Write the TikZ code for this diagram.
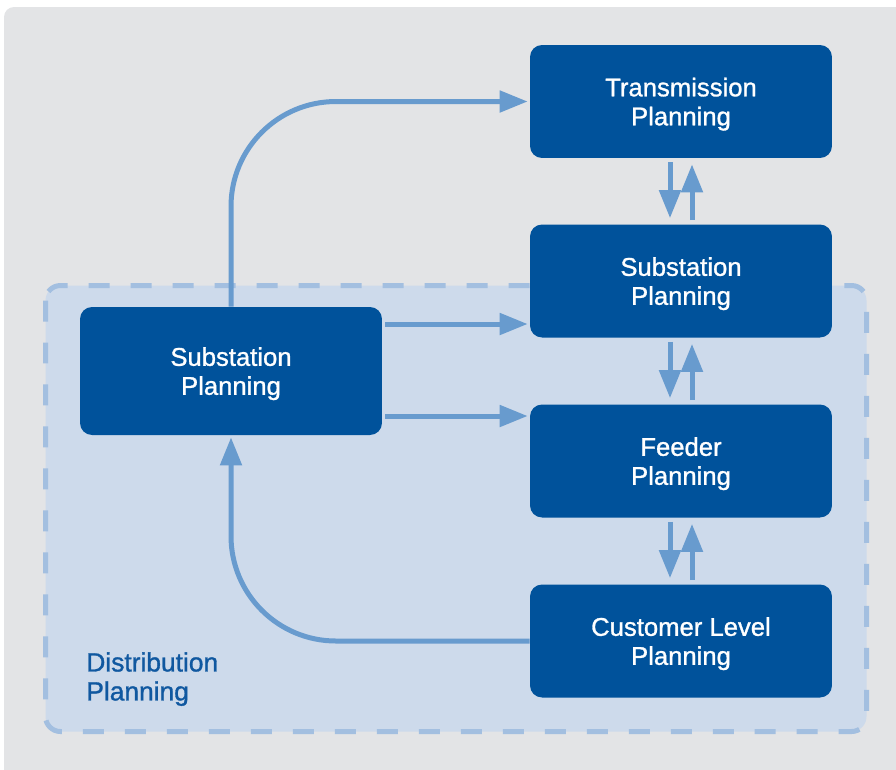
\documentclass[tikz,border=0pt]{standalone}
\usepackage{fontspec}
\setmainfont{Liberation Sans}
\newfontfamily\planfont{Liberation Sans}[FakeBold=1.1]
\usetikzlibrary{arrows.meta}
\definecolor{bggray}{RGB}{227,228,230}
\definecolor{zonefill}{RGB}{205,218,235}
\definecolor{zoneline}{RGB}{163,191,224}
\definecolor{boxblue}{RGB}{0,82,155}
\definecolor{flowblue}{RGB}{104,155,206}
\definecolor{zonetext}{RGB}{16,88,160}
\tikzset{
  plan/.style={fill=boxblue, rounded corners=0.24cm, text=white, align=center,
    minimum width=6.04cm, minimum height=2.26cm, inner sep=0pt,
    font=\planfont\fontsize{14.6}{16.5}\selectfont, text depth=-0.6pt},
  flow/.style={draw=flowblue, line width=0.1cm,
    -{Triangle[length=0.56cm,width=0.42cm]}, shorten >=0.04cm}
}
\begin{document}
\begin{tikzpicture}[x=0.02cm, y=-0.02cm]
            \useasboundingbox (0,0) rectangle (896,769);
            \begin{scope}
              \clip (0,0) rectangle (896,769);
              \fill[bggray, rounded corners=0.2cm] (4,7) rectangle (930,800);
            \end{scope}
            \draw[fill=zonefill, draw=zoneline, line width=0.1cm, dash pattern=on 0.42cm off 0.42cm, rounded corners=0.3cm] (45.5,285.5) rectangle (866.5,731.5);
            \node[text=zonetext, align=left, anchor=north west, inner sep=0pt, font=\planfont\fontsize{15}{16.5}\selectfont] (dist) at (86,652) {Distribution\\Planning};
            \node[plan] (tp) at (681,101.5) {Transmission\\Planning};
            \node[plan] (sp) at (681,281) {Substation\\Planning};
            \node[plan] (fp) at (681,461) {Feeder\\Planning};
            \node[plan] (cp) at (681,641) {Customer Level\\Planning};
            \node[plan, minimum height=2.56cm] (sl) at (231,371) {Substation\\Planning};
            \coordinate (o1) at ([shift={(3,-47)}]sl.east);
            \coordinate (o2) at ([shift={(3,45)}]sl.east);
            \draw[flow, rounded corners=2.1cm] (sl.north) |- (tp.west);
            \draw[flow] (o1) -- (o1 -| sp.west);
            \draw[flow] (o2) -- (o2 -| fp.west);
            \draw[flow, rounded corners=2.1cm] (cp.west) -| (sl.south);
            \draw[flow] ([shift={(-11,4)}]tp.south) -- ([shift={(-11,-4)}]sp.north);
            \draw[flow] ([shift={(11,-4)}]sp.north) -- ([shift={(11,4)}]tp.south);
            \draw[flow] ([shift={(-11,4)}]sp.south) -- ([shift={(-11,-4)}]fp.north);
            \draw[flow] ([shift={(11,-4)}]fp.north) -- ([shift={(11,4)}]sp.south);
            \draw[flow] ([shift={(-11,4)}]fp.south) -- ([shift={(-11,-4)}]cp.north);
            \draw[flow] ([shift={(11,-4)}]cp.north) -- ([shift={(11,4)}]fp.south);
\end{tikzpicture}
\end{document}
